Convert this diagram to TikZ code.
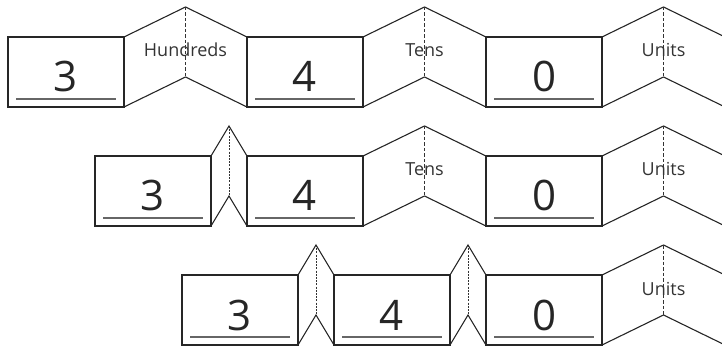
\documentclass[tikz,border=0pt]{standalone}
\usepackage{fontspec}
\setmainfont{Open Sans}
\usetikzlibrary{calc}
\newcommand{\creasefold}[4]{%
  \coordinate (#3t) at ($(#1.north east)!0.5!(#2.north west)+(0,-30)$);
  \coordinate (#3b) at ($(#1.south east)!0.5!(#2.south west)+(0,-30)$);
  \draw[fold] (#1.north east) -- (#3t) -- (#2.north west);
  \draw[fold] (#1.south east) -- (#3b) -- (#2.south west);
  \draw[#4] (#3t) -- (#3b);}
\newcommand{\numbox}[4]{%
  \node[box] (#1) at (#2,#3) {};
  \node[digit] (#1d) at ([yshift=15pt]#1.south) {#4};
  \draw[uline] ([xshift=8pt,yshift=8pt]#1.south west) -- ([xshift=-8pt,yshift=8pt]#1.south east);}
\begin{document}
\begin{tikzpicture}[x=1pt,y=-1pt,
  box/.style={draw=black!85, line width=1.2pt, rectangle, minimum width=116pt,
    minimum height=70pt, inner sep=0pt, outer sep=0pt, anchor=north west},
  ghost/.style={box, draw=none},
  fold/.style={draw=black!85, line width=1.1pt, line join=miter},
  crease/.style={draw=black!80, line width=0.8pt, dash pattern=on 3.5pt off 2pt},
  thincrease/.style={draw=black!80, line width=0.7pt, dash pattern=on 2pt off 1.2pt},
  digit/.style={anchor=base, font=\fontsize{42}{42}\selectfont, text=black!85, inner sep=0pt},
  lab/.style={anchor=base, font=\fontsize{18}{18}\selectfont, text=black!80, inner sep=0pt},
  uline/.style={draw=black!60, line width=1.3pt}]
\useasboundingbox (0,0) rectangle (722,347);
\clip (0,0) rectangle (722,347);
% Row 1
\numbox{a1}{8}{37}{3}
\numbox{a2}{247}{37}{4}
\numbox{a3}{486}{37}{0}
\node[ghost] (a4) at (725,37) {};
\creasefold{a1}{a2}{pa1}{crease}
\creasefold{a2}{a3}{pa2}{crease}
\creasefold{a3}{a4}{pa3}{crease}
\node[lab] (la1) at ([yshift=-50pt]pa1t) {Hundreds};
\node[lab] (la2) at ([yshift=-50pt]pa2t) {Tens};
\node[lab] (la3) at ([yshift=-50pt]pa3t) {Units};
% Row 2
\numbox{b1}{95}{156}{3}
\numbox{b2}{247}{156}{4}
\numbox{b3}{486}{156}{0}
\node[ghost] (b4) at (725,156) {};
\creasefold{b1}{b2}{pb1}{thincrease}
\creasefold{b2}{b3}{pb2}{crease}
\creasefold{b3}{b4}{pb3}{crease}
\node[lab] (lb2) at ([yshift=-50pt]pb2t) {Tens};
\node[lab] (lb3) at ([yshift=-50pt]pb3t) {Units};
% Row 3
\numbox{c1}{182}{275}{3}
\numbox{c2}{334}{275}{4}
\numbox{c3}{486}{275}{0}
\node[ghost] (c4) at (725,275) {};
\creasefold{c1}{c2}{pc1}{thincrease}
\creasefold{c2}{c3}{pc2}{thincrease}
\creasefold{c3}{c4}{pc3}{crease}
\node[lab] (lc3) at ([yshift=-50pt]pc3t) {Units};
\end{tikzpicture}
\end{document}
